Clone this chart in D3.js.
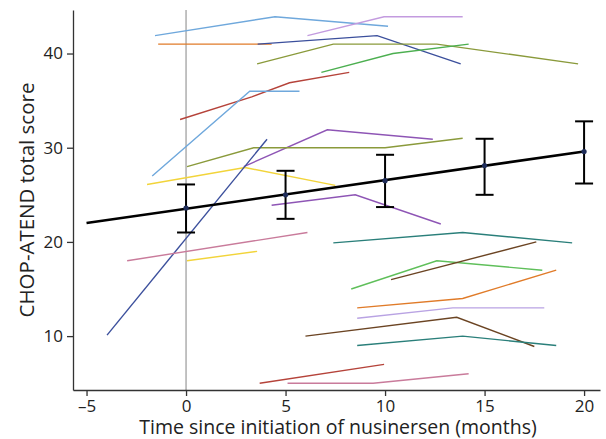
<!DOCTYPE html>
<html><head><meta charset="utf-8">
<script src="https://cdn.jsdelivr.net/npm/d3@7"></script>
<style>body{margin:0;background:#fff}svg{font-family:"Open Sans",sans-serif}</style>
</head><body><svg id="c" width="606" height="439"></svg>
<script>
// individual patient trajectories: [color, [[month, score], ...]]
const patients = [
  ["#6fa8dc", [[-1.56,41.9],[4.47,43.9],[10.15,42.9]]],
  ["#e07b29", [[-1.4,41.0],[4.3,41.0]]],
  ["#3b4f9c", [[3.6,41.0],[9.6,41.9],[13.8,38.9]]],
  ["#8a9a3b", [[3.57,38.9],[7.4,41.0],[12.6,41.0],[19.7,38.9]]],
  ["#c39bdf", [[6.1,41.9],[9.95,43.9],[13.9,43.9]]],
  ["#4caf50", [[6.8,38.0],[10.4,40.0],[14.2,41.0]]],
  ["#b5433a", [[-0.3,33.0],[3.3,35.4],[5.2,36.9],[8.2,38.0]]],
  ["#6fa8dc", [[-1.7,27.0],[3.2,36.0],[5.7,36.0]]],
  ["#8e55b5", [[2.9,28.0],[7.1,31.9],[12.4,30.9]]],
  ["#8a9a3b", [[0.05,28.0],[3.4,30.0],[10.0,30.0],[13.9,31.0]]],
  ["#f2d43a", [[-1.96,26.1],[2.96,27.9],[7.5,26.0]]],
  ["#3b4f9c", [[-3.97,10.1],[4.07,30.9]]],
  ["#8e55b5", [[4.3,23.9],[8.5,25.0],[12.8,21.9]]],
  ["#c97b9b", [[-2.96,18.0],[6.1,21.0]]],
  ["#f2d43a", [[0.05,18.0],[3.57,19.0]]],
  ["#2a7f7a", [[7.4,19.9],[13.9,21.0],[19.4,19.9]]],
  ["#5fbf5a", [[8.3,15.0],[12.6,18.0],[17.9,17.0]]],
  ["#6b4423", [[10.3,16.0],[17.6,20.0]]],
  ["#e07b29", [[8.6,13.0],[13.9,14.0],[18.6,17.0]]],
  ["#b9a3e3", [[8.6,11.9],[13.4,13.0],[18.0,13.0]]],
  ["#6b4423", [[6.0,10.0],[13.6,12.0],[17.5,8.9]]],
  ["#2a7f7a", [[8.6,9.0],[13.9,10.0],[18.6,9.0]]],
  ["#b5433a", [[3.7,5.0],[9.95,7.0]]],
  ["#c97b9b", [[5.1,5.0],[9.4,5.0],[14.2,6.0]]]
];
// model estimates
const fitX = [-5, 20];
const fitY = [22.0, 29.6];
const estMonths = [0, 5, 10, 15, 20];
const estMean = [23.6, 25.0, 26.5, 28.1, 29.6];
const estLow = [21.0, 22.45, 23.7, 25.0, 26.2];
const estHigh = [26.1, 27.55, 29.25, 30.95, 32.8];
const xTicks = [-5, 0, 5, 10, 15, 20];
const yTicks = [10, 20, 30, 40];

const svg = d3.select("#c");
const x = d3.scaleLinear().domain([-5.68, 20.8]).range([73, 600]);
const y = d3.scaleLinear().domain([4.28, 44.62]).range([390, 10]);

// reference line at 0
svg.append("line").attr("x1", x(0)).attr("x2", x(0)).attr("y1", y(44.62)).attr("y2", y(4.28))
  .attr("stroke", "#999").attr("stroke-width", 1.2);

const line = d3.line().x(d => x(d[0])).y(d => y(d[1]));
svg.append("g").selectAll("path").data(patients).join("path")
  .attr("d", d => line(d[1])).attr("fill", "none").attr("stroke", d => d[0]).attr("stroke-width", 1.4);

// fitted line
svg.append("path").attr("d", line(fitX.map((v, i) => [v, fitY[i]])))
  .attr("fill", "none").attr("stroke", "#000").attr("stroke-width", 2.6);

// error bars
const eb = svg.append("g");
estMonths.forEach((m, i) => {
  eb.append("line").attr("x1", x(m)).attr("x2", x(m)).attr("y1", y(estLow[i])).attr("y2", y(estHigh[i]))
    .attr("stroke", "#000").attr("stroke-width", 2);
  [estLow[i], estHigh[i]].forEach(v => eb.append("line").attr("x1", x(m) - 9).attr("x2", x(m) + 9)
    .attr("y1", y(v)).attr("y2", y(v)).attr("stroke", "#000").attr("stroke-width", 2));
  eb.append("circle").attr("cx", x(m)).attr("cy", y(estMean[i])).attr("r", 2.6).attr("fill", "#1f2d5a");
});

// axes
const xa = svg.append("g").attr("transform", "translate(0,390)")
  .call(d3.axisBottom(x).tickValues(xTicks).tickSize(6).tickSizeOuter(0).tickFormat(d => d < 0 ? "\u2013" + Math.abs(d) : d));
const ya = svg.append("g").attr("transform", "translate(73,0)")
  .call(d3.axisLeft(y).tickValues(yTicks).tickSize(6).tickSizeOuter(0));
[xa, ya].forEach(a => {
  a.select(".domain").attr("stroke", "#333").attr("stroke-width", 1.3);
  a.selectAll(".tick line").attr("stroke", "#333").attr("stroke-width", 1.3);
  a.selectAll(".tick text").attr("font-size", 17).attr("fill", "#222").attr("font-family", "Open Sans");
});
xa.selectAll(".tick text").attr("y", 22).attr("dy", 0);
ya.selectAll(".tick text").attr("x", -10);

svg.append("text").attr("x", 338).attr("y", 434).attr("text-anchor", "middle")
  .attr("font-size", 19.5).attr("fill", "#222").text("Time since initiation of nusinersen (months)");
svg.append("text").attr("transform", "translate(34,200) rotate(-90)").attr("text-anchor", "middle")
  .attr("font-size", 20.5).attr("fill", "#222").text("CHOP-ATEND total score");
</script></body></html>
